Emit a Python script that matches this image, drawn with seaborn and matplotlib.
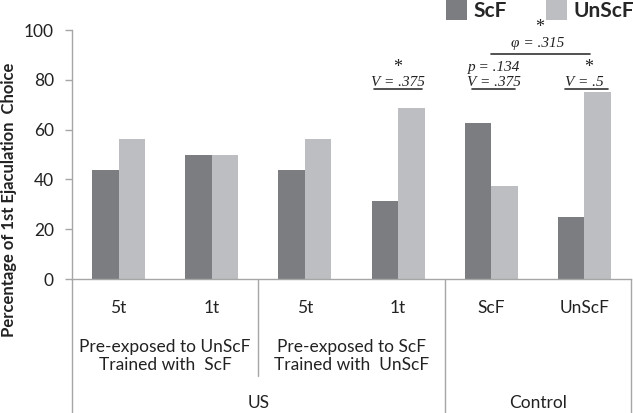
import pandas as pd
import matplotlib
matplotlib.use("Agg")
import matplotlib.pyplot as plt
import seaborn as sns

# 데이터
conditions = ["US_UnScF_5t", "US_UnScF_1t", "US_ScF_5t", "US_ScF_1t", "Ctrl_ScF", "Ctrl_UnScF"]
tick_labels = ["5t", "1t", "5t", "1t", "ScF", "UnScF"]
scf_values = [43.75, 50.0, 43.75, 31.25, 62.5, 25.0]
unscf_values = [56.25, 50.0, 56.25, 68.75, 37.5, 75.0]
series_names = ["ScF", "UnScF"]
group_labels = ["Pre-exposed to UnScF\nTrained with  ScF", "Pre-exposed to ScF\nTrained with  UnScF"]
top_labels = ["US", "Control"]
y_label = "Percentage of 1st Ejaculation  Choice"

df = pd.DataFrame({
    "condition": conditions * 2,
    "stimulus": [series_names[0]] * len(conditions) + [series_names[1]] * len(conditions),
    "value": scf_values + unscf_values,
})

sns.set_style("white")
plt.rcParams["font.family"] = ["Lato", "DejaVu Sans"]
text_color = "#222222"
line_color = "#a6a6a6"
palette = ["#7c7d81", "#bdbec1"]

fig = plt.figure(figsize=(6.33, 4.13), dpi=100)
ax = fig.add_axes([72 / 633, (413 - 279) / 413, (631 - 72) / 633, 249 / 413])

sns.barplot(data=df, x="condition", y="value", hue="stimulus", order=conditions,
            hue_order=series_names, palette=palette, width=0.57, gap=0,
            linewidth=0, saturation=1, ax=ax)

ax.set_xlim(-0.5, 5.5)
ax.set_ylim(0, 100)
ax.set_yticks(range(0, 101, 20))
ax.set_xticks(range(len(conditions)))
ax.set_xticklabels(tick_labels)
ax.tick_params(axis="x", length=0, pad=15, labelsize=12.5, colors=text_color)
ax.tick_params(axis="y", left=True, length=5, width=1, color=line_color,
               pad=8, labelsize=12.5, labelcolor=text_color)
ax.set_xlabel("")
ax.set_ylabel("")
for side in ["top", "right"]:
    ax.spines[side].set_visible(False)
for side in ["left", "bottom"]:
    ax.spines[side].set_color(line_color)
    ax.spines[side].set_linewidth(1)

# 범례
handles, labels = ax.get_legend_handles_labels()
ax.get_legend().remove()
fig.legend(handles, labels, loc="upper left", bbox_to_anchor=(446 / 633, 1.0),
           bbox_transform=fig.transFigure, ncol=2, frameon=False,
           borderpad=0, borderaxespad=0, handlelength=1.0, handleheight=1.1,
           handletextpad=0.3, columnspacing=1.9,
           prop={"size": 15, "weight": "bold"})

# 아래쪽 구분선 및 그룹 라벨
xt = ax.get_xaxis_transform()
bottom = (279 - 413) / 249
for x, y_end in [(-0.5, bottom), (1.5, (279 - 376) / 249), (3.5, bottom), (5.5, bottom)]:
    ax.plot([x, x], [0, y_end], color=line_color, lw=1, transform=xt, clip_on=False)

for x, lab in zip([0.5, 2.5], group_labels):
    ax.text(x, -0.31, lab, transform=xt, ha="center", va="center",
            fontsize=12.5, color=text_color, linespacing=1.12)
for x, lab in zip([1.5, 4.5], top_labels):
    ax.text(x, -0.5, lab, transform=xt, ha="center", va="center",
            fontsize=12.5, color=text_color)

fig.text(9 / 633, (413 - 200) / 413, y_label, rotation=90, ha="center", va="center",
         fontsize=12, fontweight="bold", color=text_color)

# 통계 표시
serif = ["Liberation Serif", "DejaVu Serif"]
stat_kw = dict(ha="center", va="baseline", fontsize=11, style="italic", family=serif, color=text_color)
ax.text(3.0, 77.4, "V = .375", **stat_kw)
ax.text(4.03, 83.4, "p = .134", **stat_kw)
ax.text(4.03, 77.4, "V = .375", **stat_kw)
ax.text(5.0, 77.4, "V = .5", **stat_kw)
ax.text(4.5, 93.0, "φ = .315", **stat_kw)

for x0, x1, y in [(2.74, 3.26, 76.5), (3.79, 4.25, 76.5), (4.79, 5.25, 76.5), (4.0, 5.06, 90.4)]:
    ax.plot([x0, x1], [y, y], color="#333333", lw=1.2, clip_on=False)

star_kw = dict(ha="center", va="baseline", fontsize=13, family=serif, color=text_color)
for x, y in [(3.0, 83.3), (5.04, 83.3), (4.52, 99.0)]:
    ax.text(x, y, "*", clip_on=False, **star_kw)

fig.savefig("out.png", dpi=100)
